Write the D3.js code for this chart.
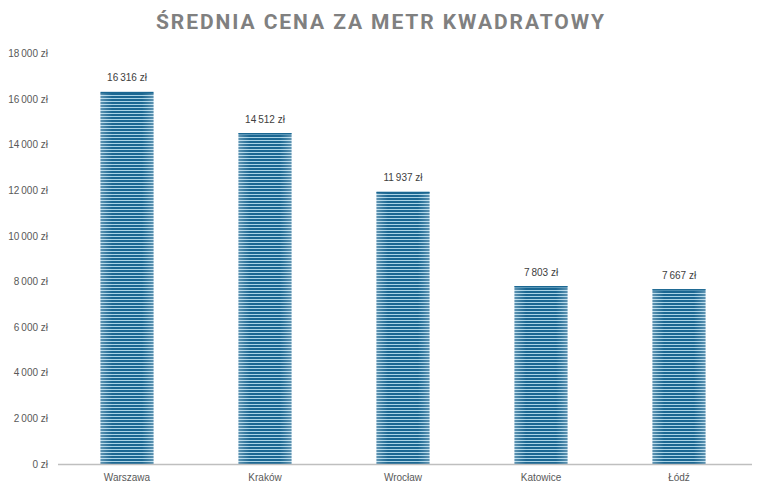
<!DOCTYPE html>
<html><head><meta charset="utf-8">
<script src="https://cdn.jsdelivr.net/npm/d3@7"></script>
<style>body{margin:0;background:#fff}svg{display:block}</style>
</head><body>
<svg id="c" width="762" height="492"></svg>
<script>
const categories = ["Warszawa","Kraków","Wrocław","Katowice","Łódź"];
const values = [16316,14512,11937,7803,7667];
const yTicks = [0,2000,4000,6000,8000,10000,12000,14000,16000,18000];
const title = "ŚREDNIA CENA ZA METR KWADRATOWY";

const fmt = v => d3.format(",")(v).replace(/,/g, "\u2009") + " zł";

const svg = d3.select("#c");
const x = d3.scaleBand().domain(categories).range([58, 748]).paddingInner(0.616).paddingOuter(0.308);
const y = d3.scaleLinear().domain([0, 18000]).range([464, 53.5]);

const defs = svg.append("defs");
const pat = defs.append("pattern").attr("id","stripes").attr("patternUnits","userSpaceOnUse")
  .attr("width", 10).attr("height", 3);
pat.append("rect").attr("width",10).attr("height",3).attr("fill","#1b6792");
pat.append("rect").attr("y",2).attr("width",10).attr("height",1).attr("fill","#a9d3e6");
const grad = defs.append("linearGradient").attr("id","edge").attr("x1","0").attr("x2","1");
[[0,0.3],[0.12,0.12],[0.22,0],[0.78,0],[0.88,0.12],[1,0.3]].forEach(([o,a])=>
  grad.append("stop").attr("offset",o).attr("stop-color","#ffffff").attr("stop-opacity",a));

svg.append("text").attr("x", 381).attr("y", 29).attr("text-anchor","middle")
  .attr("font-family","Roboto, 'Open Sans', sans-serif").attr("font-weight","bold")
  .attr("font-size", 21).attr("fill","#808080").attr("letter-spacing", 2)
  .attr("textLength", 450).attr("lengthAdjust","spacing").text(title);

const yAxis = d3.axisLeft(y).tickValues(yTicks).tickSize(0).tickPadding(0).tickFormat(fmt);
const gy = svg.append("g").attr("transform","translate(48,0)").call(yAxis);
gy.select(".domain").remove();
gy.selectAll("text").attr("font-family","'Liberation Sans', Arial, sans-serif").attr("font-size",10).attr("fill","#595959");

const bars = svg.append("g");
categories.forEach((c,i)=>{
  bars.append("rect").attr("x", x(c)).attr("y", y(values[i])).attr("width", x.bandwidth())
    .attr("height", y(0)-y(values[i])).attr("fill","url(#stripes)");
  bars.append("rect").attr("x", x(c)).attr("y", y(values[i])).attr("width", x.bandwidth())
    .attr("height", y(0)-y(values[i])).attr("fill","url(#edge)");
  bars.append("rect").attr("x", x(c)).attr("y", y(values[i])).attr("width", x.bandwidth())
    .attr("height", 1.5).attr("fill","#1b6792");
});

svg.append("g").selectAll("text").data(values).join("text")
  .attr("x",(d,i)=>x(categories[i])+x.bandwidth()/2).attr("y",d=>y(d)-10.5)
  .attr("text-anchor","middle").attr("font-family","'Liberation Sans', Arial, sans-serif")
  .attr("font-size",10).attr("fill","#404040").text(fmt);

const xAxis = d3.axisBottom(x).tickSize(0).tickPadding(10);
const gx = svg.append("g").attr("transform","translate(0,464)").call(xAxis);
gx.select(".domain").remove();
gx.selectAll("text").attr("font-family","'Liberation Sans', Arial, sans-serif").attr("font-size",10).attr("fill","#595959");
svg.append("line").attr("x1",58).attr("x2",752).attr("y1",464.5).attr("y2",464.5)
  .attr("stroke","#bfbfbf").attr("stroke-width",1.5);
</script>
</body></html>
